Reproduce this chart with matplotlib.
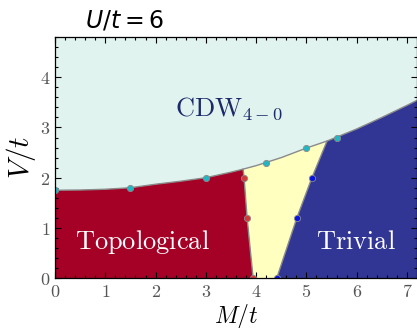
import numpy as np
import matplotlib
matplotlib.use('Agg')
import matplotlib.pyplot as plt

plt.rcParams['mathtext.fontset'] = 'cm'

# CDW boundary (line)
curve_M = [0, 0.5, 1, 1.5, 2, 2.5, 3, 3.5, 3.74, 4, 4.5, 5, 5.41, 6, 6.5, 7, 7.2]
curve_V = [1.75, 1.755, 1.77, 1.80, 1.87, 1.93, 2.0, 2.11, 2.17, 2.24, 2.40, 2.59, 2.73, 2.97, 3.2, 3.44, 3.54]

# computed points
cdw_M = [0, 1.5, 3.0, 4.2, 5.0, 5.6]
cdw_V = [1.75, 1.8, 2.0, 2.3, 2.6, 2.8]
topo_M = [3.74, 3.76, 3.82, 3.94]
topo_V = [2.17, 2.0, 1.2, 0.0]
triv_M = [5.41, 5.11, 4.81, 4.41]
triv_V = [2.73, 2.0, 1.2, 0.0]

c_cdw = '#e1f3ef'
c_topo = '#a50026'
c_triv = '#313695'
c_mid = '#ffffbf'

fig = plt.figure(figsize=(4.17, 3.28), dpi=100)
ax = fig.add_axes([0.132, 0.152, 0.868, 0.735])

xmax, ymax = 7.2, 4.8
ax.fill_between(curve_M, curve_V, ymax, color=c_cdw, lw=0)
ax.fill_between(curve_M, 0, curve_V, color=c_mid, lw=0)

# topological region: under the curve left of the red line
cm = np.array(curve_M)
cv = np.array(curve_V)
left = cm <= topo_M[0]
tx = list(cm[left]) + topo_M[1:] + [0]
ty = list(cv[left]) + topo_V[1:] + [0]
ax.fill(tx, ty, color=c_topo, lw=0)

right = cm >= triv_M[0]
rx = triv_M[::-1] + list(cm[right]) + [xmax]
ry = triv_V[::-1] + list(cv[right]) + [0]
ax.fill(rx, ry, color=c_triv, lw=0)

lc = '#8a8a8a'
ax.plot(curve_M, curve_V, color=lc, lw=1.0)
ax.plot(topo_M, topo_V, color=lc, lw=1.0)
ax.plot(triv_M, triv_V, color=lc, lw=1.0)

ms = 4.5
ax.plot(cdw_M, cdw_V, 'o', color='#22b5c2', mec=lc, mew=0.6, ms=ms)
ax.plot(topo_M[1:], topo_V[1:], 'o', color='#d23a3a', mec=lc, mew=0.6, ms=ms)
ax.plot(triv_M[1:], triv_V[1:], 'o', color='#0a14e0', mec=lc, mew=0.6, ms=ms)

ax.set_xlim(0, xmax)
ax.set_ylim(0, ymax)
ax.set_xticks(range(0, 8))
ax.set_yticks(range(0, 5))
ax.set_xticklabels([f'${i}$' for i in range(0, 8)])
ax.set_yticklabels([f'${i}$' for i in range(0, 5)])
ax.set_xticks(np.arange(0, 7.21, 0.2), minor=True)
ax.set_yticks(np.arange(0, 4.81, 0.2), minor=True)
ax.tick_params(which='both', direction='in', top=True, right=True,
               labelsize=13, labelcolor='#555555', width=0.8)
ax.tick_params(which='major', length=4)
ax.tick_params(which='minor', length=2)
for s in ax.spines.values():
    s.set_linewidth(0.9)

ax.set_xlabel('$M/t$', fontsize=17, labelpad=0.5)
ax.set_ylabel('$V/t$', fontsize=21, labelpad=1)

ax.text(2.39, 3.24, r'$\mathrm{CDW}_{4-0}$', fontsize=19, color='#1b2a6b',
        va='baseline')
ax.text(0.4, 0.58, r'$\mathrm{Topological}$', fontsize=19, color='white',
        va='baseline')
ax.text(5.19, 0.58, r'$\mathrm{Trivial}$', fontsize=19, color='white',
        va='baseline')

fig.text(85 / 417, 1 - 20 / 328, '$U/t=6$', fontsize=17, va='center',
         math_fontfamily='dejavusans')

fig.savefig('out.png', dpi=100)
